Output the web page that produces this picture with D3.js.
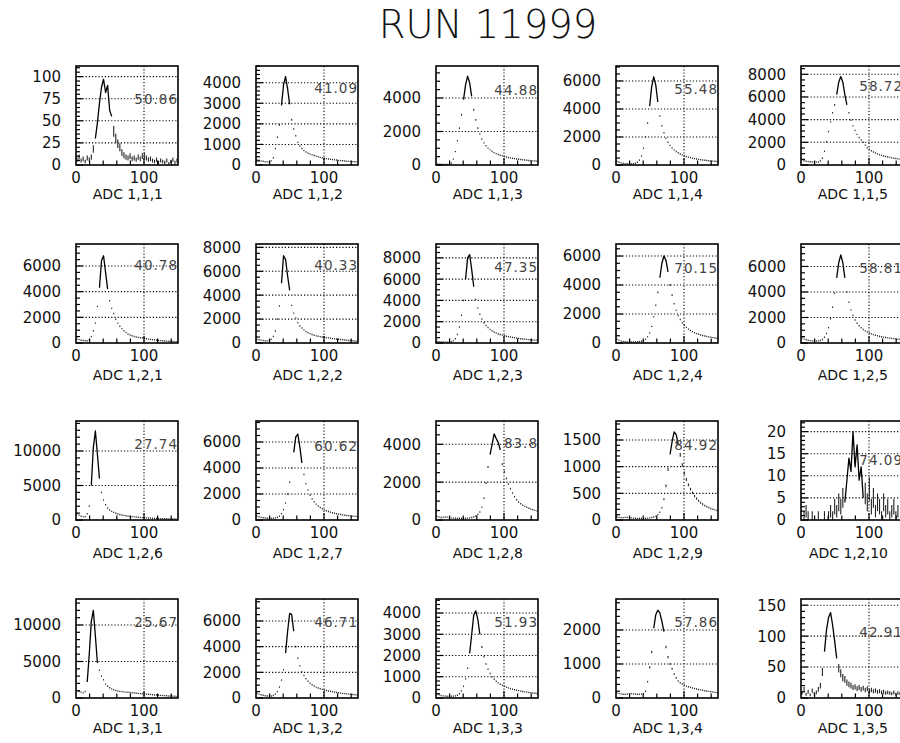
<!DOCTYPE html>
<html>
<head>
<meta charset="utf-8">
<script src="https://cdn.jsdelivr.net/npm/d3@7"></script>
<style>
  body { margin: 0; background: #fff; }
  svg { display: block; }
</style>
</head>
<body>
<script>
// ---- Run summary: 20 ADC spectra, 3-unit bins from 0 to 150 ----
const runTitle = "RUN 11999";
const binWidth = 3;
const xMax = 150;
const xTickValues = [0, 100];
const xMinorStep = 20;

const histNames = [
  "ADC 1,1,1", "ADC 1,1,2", "ADC 1,1,3", "ADC 1,1,4", "ADC 1,1,5",
  "ADC 1,2,1", "ADC 1,2,2", "ADC 1,2,3", "ADC 1,2,4", "ADC 1,2,5",
  "ADC 1,2,6", "ADC 1,2,7", "ADC 1,2,8", "ADC 1,2,9", "ADC 1,2,10",
  "ADC 1,3,1", "ADC 1,3,2", "ADC 1,3,3", "ADC 1,3,4", "ADC 1,3,5"
];
const meanLabels = [
  "50.86", "41.09", "44.88", "55.48", "58.72",
  "40.78", "40.33", "47.35", "70.15", "58.81",
  "27.74", "60.62", "83.8", "84.92", "74.09",
  "25.67", "46.71", "51.93", "57.86", "42.91"
];
const yMaxValues = [
  112, 4812, 5910, 7070, 8730,
  7714, 8280, 9300, 6830, 7760,
  14350, 7615, 5230, 1856, 22.4,
  13560, 7715, 4660, 2910, 160
];
const yTickSteps = [
  25, 1000, 2000, 2000, 2000,
  2000, 2000, 2000, 2000, 2000,
  5000, 2000, 2000, 500, 5,
  5000, 2000, 1000, 1000, 50
];
// ADC range around the peak that is drawn as a solid line
const peakRanges = [
  [28, 55], [36, 50], [40, 55], [49, 62], [51, 68],
  [33, 48], [36, 50], [42, 57], [64, 78], [51, 66],
  [21, 36], [53, 68], [78, 96], [78, 94], [64, 92],
  [15, 32], [43, 58], [49, 65], [54, 72], [32, 54]
];

// ---- bin contents ----
const counts111 = [6,9,5,7,4,8,6,9,18,30,48,70,88,97,82,90,62,55,38,30,24,20,14,11,9,8,10,7,8,6,9,7,10,11,8,6,7,5,4,6,3,5,4,3,5,2,4,6,3,5];
const counts112 = [250,230,200,180,160,150,150,200,350,800,1350,1950,2900,3900,4300,3700,2950,2200,1750,1420,1100,920,800,700,630,570,530,490,460,430,400,370,350,330,310,295,280,265,250,240,225,215,205,195,185,178,170,163,157,150];
const counts113 = [60,50,40,40,40,40,50,120,350,800,1450,2200,3000,3900,4800,5300,4900,4100,3300,2700,2200,1850,1550,1320,1150,1010,900,810,740,680,630,585,545,510,480,450,425,400,380,360,340,325,310,295,280,268,256,245,235,225];
const counts114 = [250,200,150,120,100,90,90,90,100,130,200,350,650,1200,2000,3000,4200,5600,6300,5700,4500,3500,2800,2300,1900,1620,1400,1220,1080,960,870,790,720,660,610,565,525,490,460,430,405,380,360,340,322,306,290,276,263,250];
const counts115 = [450,380,330,300,280,260,250,250,270,350,600,1200,2050,2950,3800,4600,5300,6200,7300,7800,7300,6200,5300,4600,3950,3450,3050,2700,2420,2200,2000,1750,1520,1380,1260,1150,1060,980,910,850,800,750,710,670,630,600,570,540,515,490];
const counts121 = [300,260,220,190,170,170,250,500,950,1550,2850,4300,6400,6800,5500,4200,3300,2700,2300,1850,1550,1300,1120,960,830,700,620,560,510,470,440,410,385,360,330,300,280,260,240,220,200,185,170,155,145,135,125,115,105,100];
const counts122 = [300,270,240,210,190,180,200,300,550,1000,2000,3100,5000,7300,7000,5600,4400,3150,2500,2100,1700,1420,1250,1100,960,860,780,710,650,600,560,530,500,475,450,425,400,375,350,330,310,290,270,250,230,215,200,185,170,155];
const counts123 = [150,120,100,90,80,80,90,120,200,400,800,1500,2600,4000,6000,8000,8300,6900,5300,4100,3300,2700,2250,1900,1650,1450,1280,1150,1040,950,870,800,740,690,640,600,560,525,490,460,430,405,380,360,340,320,300,285,270,255];
const counts124 = [250,180,130,100,90,80,80,80,80,80,90,100,120,160,250,420,700,1150,1800,2600,3500,4500,5500,6000,5700,4900,4000,3300,2700,2250,1900,1620,1400,1220,1080,960,860,780,710,650,600,555,515,480,450,420,395,370,350,330];
const counts125 = [400,320,260,220,190,170,160,160,170,200,280,450,750,1200,1900,2800,3900,5100,6300,6900,6300,5100,4000,3200,2600,2150,1800,1550,1350,1190,1060,950,860,780,715,660,610,565,525,490,460,430,405,380,360,340,320,305,290,275];
const counts126 = [900,700,550,450,500,900,2000,5000,10500,12900,9500,6000,4000,2900,2200,1750,1450,1250,1100,980,880,800,730,670,620,570,530,490,460,430,400,375,350,330,310,290,275,260,245,230,218,206,195,185,175,165,156,148,140,132];
const counts127 = [300,250,200,170,150,140,130,130,140,160,200,300,480,800,1300,2000,2900,4000,5200,6400,6600,5600,4400,3500,2800,2300,1900,1620,1400,1220,1080,960,860,780,710,650,600,555,515,480,450,420,395,370,350,330,310,295,280,265];
const counts128 = [180,150,130,140,160,150,130,110,100,90,90,90,90,90,95,100,110,130,160,210,290,420,680,1150,1950,2800,3450,4000,4550,4300,4100,3700,2950,2550,2200,1900,1650,1420,1230,1070,950,860,780,720,670,620,580,545,510,480];
const counts129 = [60,50,45,45,50,50,45,40,35,32,30,30,30,32,34,36,40,46,56,72,100,145,230,390,640,950,1230,1470,1650,1600,1420,1220,1030,880,760,660,580,510,450,400,360,325,295,270,250,232,216,202,190,178];
const counts1210 = [0,1,2,1,0,1,0,0,1,0,0,1,0,1,2,1,3,2,4,3,5,4,9,14,11,20,12,17,9,12,5,6,4,7,3,5,2,4,3,1,4,2,3,1,2,3,1,2,0,1];
const counts131 = [1000,900,800,700,900,2200,6000,10500,12000,8500,4800,3800,3000,2500,1900,1600,1400,1250,1120,1030,960,910,870,840,810,780,750,720,690,660,630,600,580,555,530,505,480,455,430,405,380,360,340,320,300,280,265,250,235,220];
const counts132 = [350,300,250,210,180,160,150,160,200,300,500,850,1400,2200,3500,5200,6600,6500,5200,4000,3100,2500,2050,1750,1500,1300,1150,1030,930,850,780,720,670,625,585,550,515,485,455,430,405,380,360,340,320,300,285,270,255,240];
const counts133 = [200,150,120,100,90,80,80,80,90,100,130,200,330,550,900,1400,2100,3000,3900,4100,3700,3000,2400,1950,1600,1350,1150,1000,880,790,710,650,595,550,510,475,445,415,390,365,345,325,305,290,275,260,247,235,224,213];
const counts134 = [150,130,120,110,110,110,120,130,120,110,110,110,115,130,200,480,900,1350,2050,2450,2580,2500,2250,1950,1500,1200,1000,860,700,590,500,450,410,380,350,330,310,295,280,265,250,238,226,215,205,195,185,175,166,158];
const counts135 = [8,14,6,10,5,12,7,9,14,20,42,75,110,130,138,118,92,64,48,40,33,30,25,22,20,17,18,15,17,14,16,13,15,12,13,11,12,10,11,9,10,8,9,8,7,9,6,8,7,6];

const allCounts = [
  counts111, counts112, counts113, counts114, counts115,
  counts121, counts122, counts123, counts124, counts125,
  counts126, counts127, counts128, counts129, counts1210,
  counts131, counts132, counts133, counts134, counts135
];

// ---- page layout ----
const width = 900, height = 743;
const colLeft = [76, 256, 436, 616, 801];
const rowTop = [66, 244, 421, 599];
const frameW = 102, frameH = 99;
const meanLabelDrop = [
  38, 27, 29, 28, 25,
  26, 26, 28, 29, 29,
  28, 30, 27, 29, 44,
  28, 28, 28, 28, 38
];
const axisTitleDrop = [34, 37, 38, 35];

const svg = d3.select("body").append("svg")
  .attr("width", width).attr("height", height);

svg.append("text")
  .attr("x", 488).attr("y", 38)
  .attr("text-anchor", "middle")
  .attr("font-family", "DejaVu Sans")
  .attr("font-weight", 200)
  .attr("font-size", 38.5)
  .attr("fill", "#111")
  .text(runTitle);

const tickFont = "DejaVu Sans";

allCounts.forEach((counts, i) => {
  const row = Math.floor(i / 5), col = i % 5;
  const g = svg.append("g")
    .attr("transform", `translate(${colLeft[col]},${rowTop[row]})`);

  const x = d3.scaleLinear().domain([0, xMax]).range([0, frameW]);
  const y = d3.scaleLinear().domain([0, yMaxValues[i]]).range([frameH, 0]);

  const step = yTickSteps[i];
  const yTicks = d3.range(0, yMaxValues[i] + 1e-9, step);
  const minorDiv = step === 2000 ? 4 : 5;
  const yMinor = d3.range(0, yMaxValues[i], step / minorDiv);

  // dotted grid at the labelled values
  g.selectAll("line.hgrid").data(yTicks.filter(v => v > 0)).join("line")
    .attr("x1", 0).attr("x2", frameW)
    .attr("y1", d => y(d)).attr("y2", d => y(d))
    .attr("stroke", "#000").attr("stroke-width", 1.1)
    .attr("stroke-dasharray", "1.2,2");
  g.selectAll("line.vgrid").data(xTickValues.filter(v => v > 0)).join("line")
    .attr("x1", d => x(d)).attr("x2", d => x(d))
    .attr("y1", 0).attr("y2", frameH)
    .attr("stroke", "#000").attr("stroke-width", 1.1)
    .attr("stroke-dasharray", "1.2,2");

  const bins = counts.map((c, k) => ({ x: (k + 0.5) * binWidth, c }));
  const [lo, hi] = peakRanges[i];
  const inPeak = bins.filter(b => b.x >= lo && b.x <= hi);
  const outside = bins.filter(b => (b.x < lo || b.x > hi) && b.c > 0);

  // bins outside the peak: points with their statistical error bars
  g.selectAll("line.err").data(outside).join("line")
    .attr("x1", d => x(d.x)).attr("x2", d => x(d.x))
    .attr("y1", d => Math.min(y(d.c + Math.sqrt(d.c)), y(d.c) - 0.7))
    .attr("y2", d => Math.max(y(Math.max(0, d.c - Math.sqrt(d.c))), y(d.c) + 0.7))
    .attr("stroke", "#222").attr("stroke-width", 1.1);

  // peak region drawn as a solid line
  g.append("path")
    .datum(inPeak)
    .attr("fill", "none").attr("stroke", "#000").attr("stroke-width", 1.3)
    .attr("stroke-linejoin", "round")
    .attr("d", d3.line().x(d => x(d.x)).y(d => y(d.c)));

  // frame
  g.append("rect")
    .attr("x", 0).attr("y", 0).attr("width", frameW).attr("height", frameH)
    .attr("fill", "none").attr("stroke", "#000").attr("stroke-width", 1.6);

  // y ticks (inside the frame)
  g.selectAll("line.ymin").data(yMinor).join("line")
    .attr("x1", 0).attr("y1", d => y(d))
    .attr("x2", d => (Math.abs(d / step - Math.round(d / step)) < 1e-6) ? 7 : 4)
    .attr("y2", d => y(d))
    .attr("stroke", "#000").attr("stroke-width", 1.2);
  // x ticks
  const xMinor = d3.range(xMinorStep, xMax, xMinorStep);
  g.selectAll("line.xmin").data(xMinor).join("line")
    .attr("x1", d => x(d)).attr("x2", d => x(d))
    .attr("y1", frameH)
    .attr("y2", d => frameH - (d % 100 === 0 ? 7 : 4.5))
    .attr("stroke", "#000").attr("stroke-width", 1.2);

  // y tick labels
  g.selectAll("text.ylab").data(yTicks).join("text")
    .attr("x", -15).attr("y", d => y(d))
    .attr("dy", "0.36em")
    .attr("text-anchor", "end")
    .attr("font-family", tickFont).attr("font-size", 15).attr("fill", "#111")
    .text(d => d3.format("d")(d));
  // x tick labels
  g.selectAll("text.xlab").data(xTickValues).join("text")
    .attr("x", d => x(d)).attr("y", frameH + 17.5)
    .attr("text-anchor", "middle")
    .attr("font-family", tickFont).attr("font-size", 15).attr("fill", "#111")
    .text(d => d);

  // axis title
  g.append("text")
    .attr("x", frameW - 15).attr("y", frameH + axisTitleDrop[row])
    .attr("text-anchor", "end")
    .attr("font-family", tickFont).attr("font-size", 14).attr("fill", "#111")
    .text(histNames[i]);

  // mean value
  g.append("text")
    .attr("x", frameW).attr("y", meanLabelDrop[i])
    .attr("text-anchor", "end")
    .attr("font-family", tickFont)
    .attr("font-size", 13.5).attr("letter-spacing", 1)
    .attr("fill", "#444")
    .text(meanLabels[i]);
});
</script>
</body>
</html>
